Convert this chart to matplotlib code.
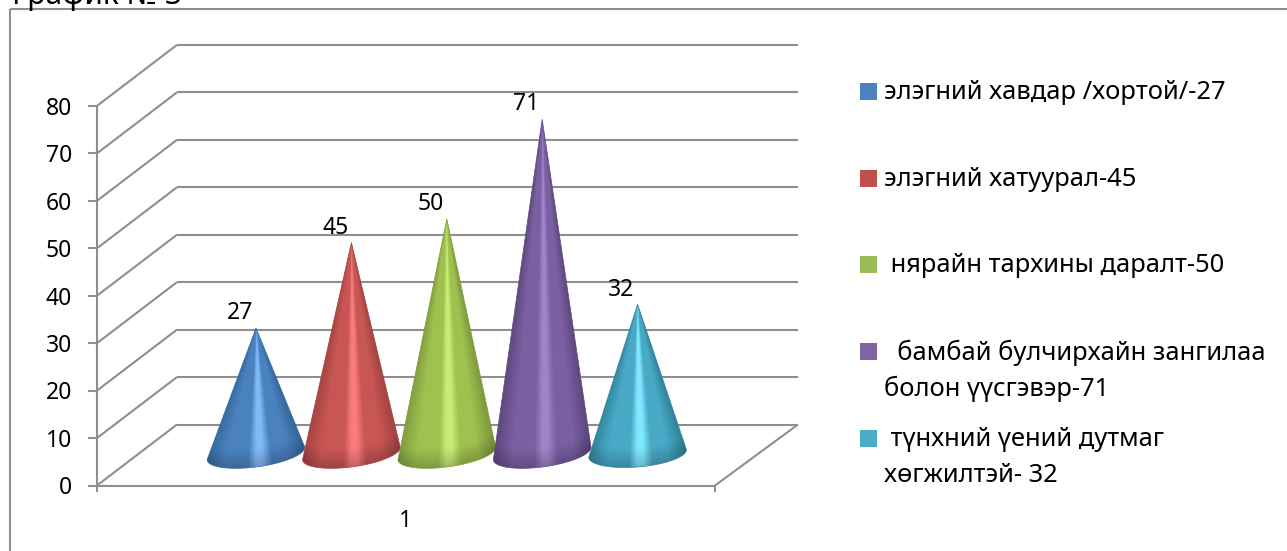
import numpy as np
import matplotlib
matplotlib.use("Agg")
import matplotlib.pyplot as plt
from matplotlib.patches import Polygon
from matplotlib.colors import LinearSegmentedColormap

plt.rcParams['font.family'] = ['Noto Sans', 'DejaVu Sans']

# ---- data ----
title = "График № 3"
series_values = [27, 45, 50, 71, 32]
value_ticks = [0, 10, 20, 30, 40, 50, 60, 70, 80]
category_label = "1"
legend_lines = [
    ["элэгний хавдар /хортой/-27"],
    ["элэгний хатуурал-45"],
    [" нярайн тархины даралт-50"],
    ["  бамбай булчирхайн зангилаа", "болон үүсгэвэр-71"],
    [" түнхний үений дутмаг", "хөгжилтэй- 32"],
]
legend_colors = ["#4f81bd", "#c0504d", "#9bbb59", "#8064a2", "#4bacc6"]
dark_colors = ["#356a9f", "#a54441", "#7f9c3e", "#5f4880", "#31859c"]
mid_colors = ["#4a82c0", "#c85654", "#9fc14f", "#7b60a3", "#49a9c6"]
light_colors = ["#82baf9", "#f97c7c", "#c8ec74", "#a084cc", "#80e8ff"]
tilts = [1.3, 1.3, 1.3, 1.3, 0.8]

W, H = 1287, 551
fig = plt.figure(figsize=(W / 100, H / 100), dpi=100, facecolor="white")
ax = fig.add_axes([0, 0, 1, 1])

# value axis: 0 at pixel row 485.5, 4.745 px per unit; category slot 95.4 px wide
Y0, PXV = 485.5, 4.745
X0, PXC = 256.0, 95.4
XLIM = ((0 - X0) / PXC, (W - X0) / PXC)
YLIM = ((Y0 - H) / PXV, Y0 / PXV)
ax.set_xlim(*XLIM)
ax.set_ylim(*YLIM)
ax.axis("off")
ax.set_autoscale_on(False)


def fx(px):
    return (px - X0) / PXC


def fy(py):
    return (Y0 - py) / PXV


GRID = "#8e8e8e"
LW = 1.5
DX = fx(177) - fx(97)
DY = 61 / PXV
left = fx(97)
right = fx(715)
back_right = fx(798)


def seg(xs, ys, **kw):
    ax.plot(xs, ys, color=GRID, lw=LW, solid_capstyle="butt", **kw)


# outer frame
seg([fx(10), fx(10)], [fy(H), fy(9)])
seg([fx(10), fx(W)], [fy(9), fy(9)])

# walls and grid
for v in value_ticks:
    seg([left, left + DX], [v, v + DY])
    seg([left + DX, back_right], [v + DY, v + DY])
    seg([fx(88), left], [v, v])
    ax.text(fx(72), v - 0.6, str(v), ha="right", va="center", fontsize=16.5, color="black")
seg([left, left], [0, 80])
seg([left, left], [fy(492), 0])
seg([left, right], [0, 0])
seg([right, right], [fy(492), 0])
seg([right, back_right], [0, DY])

# cones
CENTER = 6.75
A = 0.512
B = 2.85
t = np.linspace(0, 1, 241)
for i, val in enumerate(series_values):
    cmap = LinearSegmentedColormap.from_list(
        f"c{i}",
        [(0, dark_colors[i]), (0.2, mid_colors[i]), (0.42, mid_colors[i]),
         (0.5, light_colors[i]), (0.56, light_colors[i]), (0.65, mid_colors[i]),
         (0.82, mid_colors[i]), (1, dark_colors[i])],
    )
    theta = np.pi * (1 - t)
    ex = i + A * np.cos(theta)
    ey = CENTER - B * np.sin(theta) + tilts[i] * np.cos(theta)
    ax_x, ax_y = i, val + 6.2

    xs = np.linspace(i - 0.56, i + 0.56, 240)
    ys = np.linspace(val + 6.4, 3.2, 900)
    gx, gy = np.meshgrid(xs, ys)
    denom = np.where(np.abs(ax_y - gy) < 1e-6, 1e-6, ax_y - gy)
    xb = ax_x + (gx - ax_x) * (ax_y - CENTER) / denom
    u = np.clip((xb - (i - A)) / (2 * A), 0, 1)
    rgba = cmap(u)
    rim = np.interp(gx, ex, ey)
    shade = 0.80 + 0.20 * np.clip((gy - rim) / 4.0, 0, 1)
    rgba[..., :3] *= shade[..., None]

    im = ax.imshow(rgba, extent=(xs[0], xs[-1], ys[-1], ys[0]), aspect="auto",
                   origin="upper", interpolation="bilinear", zorder=3 + i)
    outline = Polygon(np.column_stack([np.r_[ax_x, ex], np.r_[ax_y, ey]]), closed=True,
                      fc="none", ec=dark_colors[i], lw=0.5, zorder=3 + i)
    ax.add_patch(outline)
    im.set_clip_path(outline)
    ax.text(i - 16 / PXC, val + 9.3, str(val), ha="center", va="center",
            fontsize=16.5, color="black", zorder=10)

ax.text(fx(405), fy(521), category_label, ha="center", va="center", fontsize=16.5, color="black")
ax.set_xlim(*XLIM)
ax.set_ylim(*YLIM)

# legend
rows = [91.5, 178.5, 264.5, 351.5, 438.5]
for lines, c, r in zip(legend_lines, legend_colors, rows):
    ax.add_patch(plt.Rectangle((fx(860), fy(r + 8.5)), 17 / PXC, 17 / PXV, fc=c, ec="none"))
    for j, s in enumerate(lines):
        ax.text(fx(884), fy(r + 1 + j * 36), s, ha="left", va="center", fontsize=18.4, color="black")

# title, cut by the top edge as in the source
ax.text(fx(12), fy(4), title, ha="left", va="baseline", fontsize=21.6, color="black")

fig.savefig("out.png", dpi=100, facecolor="white")
